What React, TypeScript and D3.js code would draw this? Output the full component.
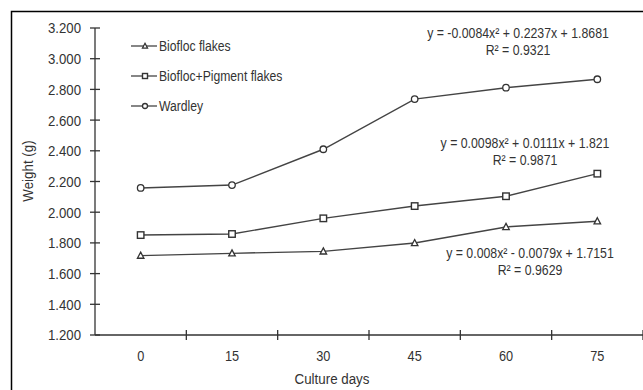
import { useEffect, useRef } from 'react';
import * as d3 from 'd3';

const days = ['0', '15', '30', '45', '60', '75'];
const yTicks = [1.2, 1.4, 1.6, 1.8, 2.0, 2.2, 2.4, 2.6, 2.8, 3.0, 3.2];

const bioflocFlakes = [1.717, 1.732, 1.745, 1.799, 1.904, 1.941];
const pigmentFlakes = [1.851, 1.858, 1.96, 2.04, 2.104, 2.251];
const wardley = [2.158, 2.177, 2.41, 2.737, 2.811, 2.866];

const seriesNames = ['Biofloc flakes', 'Biofloc+Pigment flakes', 'Wardley'];
const equations = [
  ['y = 0.008x² - 0.0079x + 1.7151', 'R² = 0.9629'],
  ['y = 0.0098x² + 0.0111x + 1.821', 'R² = 0.9871'],
  ['y = -0.0084x² + 0.2237x + 1.8681', 'R² = 0.9321'],
];

const W = 643;
const H = 390;
const ink = '#333';
const font = 'Arial, "Liberation Sans", sans-serif';

const App = () => {
  const svgRef = useRef<SVGSVGElement | null>(null);

  useEffect(() => {
    const svg = d3.select(svgRef.current);
    svg.selectAll('*').remove();

    const margin = { top: 28, left: 95, bottom: 335, right: 643 };

    const x = d3.scaleBand().domain(days).range([margin.left, margin.right]).padding(0);
    const y = d3.scaleLinear().domain([1.2, 3.2]).range([margin.bottom, margin.top]);

    // condensed looking text, like the original export
    const label = (g: any, tx: number, ty: number, t: string, size: number, anchor = 'start', sx = 0.87, extra = '') =>
      g.append('text')
        .attr('transform', `translate(${tx},${ty}) ${extra} scale(${sx},1)`)
        .attr('dy', '0.36em')
        .attr('text-anchor', anchor)
        .style('font-family', font).style('font-size', `${size}px`).style('fill', ink)
        .text(t);

    // frame
    svg.append('rect')
      .attr('x', 11.5).attr('y', 11.5)
      .attr('width', 700).attr('height', 500)
      .attr('fill', 'none').attr('stroke', '#000').attr('stroke-width', 1.5);

    // Y axis
    const gy = svg.append('g');
    gy.append('line')
      .attr('x1', margin.left).attr('x2', margin.left)
      .attr('y1', y(3.2)).attr('y2', y(1.2))
      .attr('stroke', ink).attr('stroke-width', 1.3);
    gy.selectAll('.yt').data(yTicks).enter().append('line')
      .attr('x1', margin.left - 5).attr('x2', margin.left + 5)
      .attr('y1', d => y(d)).attr('y2', d => y(d))
      .attr('stroke', ink).attr('stroke-width', 1.3);
    yTicks.forEach(d => label(gy, 81, y(d), d.toFixed(3), 15, 'end', 0.88));

    // X axis
    const gx = svg.append('g');
    gx.append('line')
      .attr('x1', margin.left).attr('x2', margin.right)
      .attr('y1', y(1.2)).attr('y2', y(1.2))
      .attr('stroke', ink).attr('stroke-width', 1.3);
    gx.selectAll('.xt').data(days).enter().append('line')
      .attr('x1', d => (x(d) as number) + x.bandwidth())
      .attr('x2', d => (x(d) as number) + x.bandwidth())
      .attr('y1', y(1.2) - 5).attr('y2', y(1.2) + 5)
      .attr('stroke', ink).attr('stroke-width', 1.3);
    days.forEach(d => label(gx, (x(d) as number) + x.bandwidth() / 2, 356, d, 15, 'middle', 0.85));

    // axis titles
    label(svg, 332, 379, 'Culture days', 15, 'middle', 0.89);
    label(svg, 28, 171, 'Weight (g)', 15, 'middle', 0.89, 'rotate(-90)');

    // markers
    const drawMarker = (g: any, kind: number, cx: number, cy: number, s: number) => {
      if (kind === 0) {
        const h = s * 0.9;
        g.append('path')
          .attr('d', `M${cx},${cy - h * 0.6}L${cx + s / 2},${cy + h * 0.45}L${cx - s / 2},${cy + h * 0.45}Z`)
          .attr('fill', '#fff').attr('stroke', ink).attr('stroke-width', 1.3);
      } else if (kind === 1) {
        g.append('rect')
          .attr('x', cx - s / 2).attr('y', cy - s / 2)
          .attr('width', s).attr('height', s)
          .attr('fill', '#fff').attr('stroke', ink).attr('stroke-width', 1.4);
      } else {
        g.append('circle')
          .attr('cx', cx).attr('cy', cy).attr('r', s / 2)
          .attr('fill', '#fff').attr('stroke', ink).attr('stroke-width', 1.3);
      }
    };

    const allSeries = [bioflocFlakes, pigmentFlakes, wardley];
    const line = d3.line<number>()
      .x((_, i) => (x(days[i]) as number) + x.bandwidth() / 2)
      .y(d => y(d));

    allSeries.forEach((vals, k) => {
      const g = svg.append('g');
      g.append('path')
        .attr('d', line(vals))
        .attr('fill', 'none').attr('stroke', '#444').attr('stroke-width', 1.4);
      vals.forEach((v, i) => {
        drawMarker(g, k, (x(days[i]) as number) + x.bandwidth() / 2, y(v), 6.5);
      });
    });

    // legend
    const legendY = [46, 76, 106];
    seriesNames.forEach((name, k) => {
      const g = svg.append('g');
      g.append('line')
        .attr('x1', 131).attr('x2', 157)
        .attr('y1', legendY[k]).attr('y2', legendY[k])
        .attr('stroke', '#444').attr('stroke-width', 1.3);
      drawMarker(g, k, 145, legendY[k], 5);
      label(g, 159, legendY[k], name, 14, 'start', 0.87);
    });

    // trend equations
    const eqPos = [
      { x: 530, y: 253 },
      { x: 525, y: 143 },
      { x: 518, y: 33 },
    ];
    equations.forEach((lines, k) => {
      lines.forEach((t, j) => {
        label(svg, eqPos[k].x, eqPos[k].y + j * 17, t, 14, 'middle', 0.88);
      });
    });
  }, []);

  return (
    <svg
      ref={svgRef}
      width={W}
      height={H}
      style={{ position: 'absolute', left: 0, top: 0, background: '#fff' }}
    />
  );
};

export default App;
